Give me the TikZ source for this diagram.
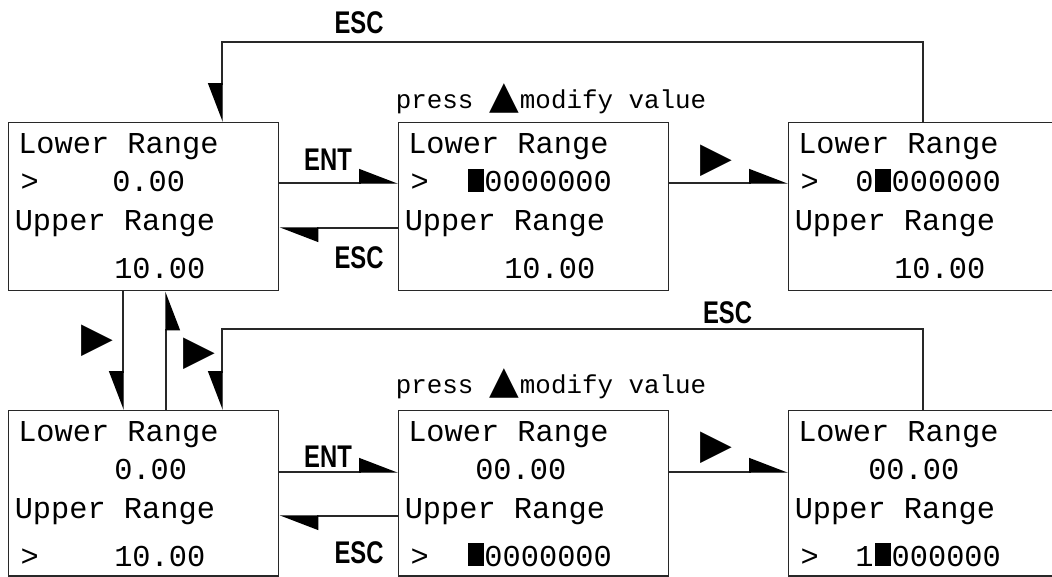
\documentclass[tikz,border=0pt]{standalone}
\usepackage{fontspec}
\usetikzlibrary{arrows.meta,calc}
\newfontfamily\boxfont{Liberation Mono}
\newfontfamily\lblfont[FakeStretch=0.76]{Liberation Sans Bold}
\newfontfamily\symfont{DejaVu Sans}
\definecolor{lc}{RGB}{40,40,40}
\newcommand{\lcdcur}{\hspace{1.1pt}\rule{12pt}{17.25pt}\hspace{0.55pt}}
\newcommand{\uptri}{\makebox[23.3pt][c]{\symfont\fontsize{29pt}{29pt}\selectfont ▲}}
\begin{document}
\begin{tikzpicture}[x=0.75pt,y=-0.75pt,
  screen/.style={draw=lc, line width=1.1pt, minimum width=202.5pt, minimum height=126pt, inner sep=0pt, anchor=north west},
  screenlow/.style={screen, minimum height=124.1pt},
  txt/.style={font=\boxfont\fontsize{22.75pt}{27pt}\selectfont, inner sep=0pt, anchor=base west},
  key/.style={font=\lblfont\fontsize{23.5pt}{28pt}\selectfont, inner sep=0pt, anchor=base},
  hint/.style={font=\boxfont\fontsize{19.4pt}{23pt}\selectfont, inner sep=0pt, anchor=base west},
  sym/.style={font=\symfont\fontsize{31pt}{31pt}\selectfont, inner sep=0pt},
  conn/.style={draw=lc, line width=1.1pt, -{Triangle[harpoon,length=27.75pt,width=21pt,color=black]}},
  vconn/.style={draw=lc, line width=1.1pt, -{Triangle[harpoon,swap,length=27.75pt,width=21pt,color=black]}},
]
\useasboundingbox (0,0) rectangle (1052,576);

% screens
\node[screen] (A) at (8,122) {};
\node[screen] (B) at (398,122) {};
\node[screen] (C) at (788,122) {};
\node[screenlow] (A2) at (8,410) {};
\node[screenlow] (B2) at (398,410) {};
\node[screenlow] (C2) at (788,410) {};

% screen A
\node[txt] (A-l1) at ($(A.north west)+(10,31)$) {Lower Range};
\node[txt] (A-p2) at ($(A.north west)+(12.4,69.5)$) {>};
\node[txt] (A-v2) at ($(A.north west)+(104,69.5)$) {0.00};
\node[txt] (A-l3) at ($(A.north west)+(6.5,108)$) {Upper Range};
\node[txt] (A-v4) at ($(A.north west)+(106,156)$) {10.00};
% screen B
\node[txt] (B-l1) at ($(B.north west)+(10,31)$) {Lower Range};
\node[txt] (B-p2) at ($(B.north west)+(12.4,69.5)$) {>};
\node[txt] (B-v2) at ($(B.north west)+(68,69.5)$) {\lcdcur0000000};
\node[txt] (B-l3) at ($(B.north west)+(6.5,108)$) {Upper Range};
\node[txt] (B-v4) at ($(B.north west)+(106,156)$) {10.00};
% screen C
\node[txt] (C-l1) at ($(C.north west)+(10,31)$) {Lower Range};
\node[txt] (C-p2) at ($(C.north west)+(12.4,69.5)$) {>};
\node[txt] (C-v2) at ($(C.north west)+(67,69.5)$) {0\lcdcur000000};
\node[txt] (C-l3) at ($(C.north west)+(6.5,108)$) {Upper Range};
\node[txt] (C-v4) at ($(C.north west)+(106,156)$) {10.00};
% screen A2
\node[txt] (A2-l1) at ($(A2.north west)+(10,31)$) {Lower Range};
\node[txt] (A2-v2) at ($(A2.north west)+(106,69.5)$) {0.00};
\node[txt] (A2-l3) at ($(A2.north west)+(6.5,108)$) {Upper Range};
\node[txt] (A2-p4) at ($(A2.north west)+(12.4,156)$) {>};
\node[txt] (A2-v4) at ($(A2.north west)+(106,156)$) {10.00};
% screen B2
\node[txt] (B2-l1) at ($(B2.north west)+(10,31)$) {Lower Range};
\node[txt] (B2-v2) at ($(B2.north west)+(77,69.5)$) {00.00};
\node[txt] (B2-l3) at ($(B2.north west)+(6.5,108)$) {Upper Range};
\node[txt] (B2-p4) at ($(B2.north west)+(12.4,156)$) {>};
\node[txt] (B2-v4) at ($(B2.north west)+(68,156)$) {\lcdcur0000000};
% screen C2
\node[txt] (C2-l1) at ($(C2.north west)+(10,31)$) {Lower Range};
\node[txt] (C2-v2) at ($(C2.north west)+(80,69.5)$) {00.00};
\node[txt] (C2-l3) at ($(C2.north west)+(6.5,108)$) {Upper Range};
\node[txt] (C2-p4) at ($(C2.north west)+(12.4,156)$) {>};
\node[txt] (C2-v4) at ($(C2.north west)+(67,156)$) {1\lcdcur000000};

% labels
\node[key] (esc1) at (359,33) {ESC};
\node[hint] (hint1) at (395.5,108) {press \uptri modify value};
\node[key] (ent1) at (328,170) {ENT};
\node[key] (esc2) at (359,268) {ESC};
\node[sym] (r1) at (716,160.5) {▶};
\node[key] (esc3) at (727.5,323) {ESC};
\node[hint] (hint2) at (395.5,393) {press \uptri modify value};
\node[key] (ent2) at (328,467) {ENT};
\node[key] (esc4) at (359,563) {ESC};
\node[sym] (r2) at (716,448) {▶};
\node[sym] (r3) at (97.5,340.5) {▶};
\node[sym] (r4) at (199.5,353.5) {▶};

% connectors top row
\draw[conn] ($(A.north east)+(0,61)$) -- ($(B.north west)+(0,61)$);
\draw[conn] ($(B.north west)+(0,106)$) -- ($(A.north east)+(0,106)$);
\draw[conn] ($(B.north east)+(0,61)$) -- ($(C.north west)+(0,61)$);
\draw[vconn] ($(C.north west)+(135,0)$) -- ++(0,-80) -| ($(A.north west)+(214,0)$);
% connectors bottom row
\draw[conn] ($(A2.north east)+(0,62)$) -- ($(B2.north west)+(0,62)$);
\draw[conn] ($(B2.north west)+(0,106)$) -- ($(A2.north east)+(0,106)$);
\draw[conn] ($(B2.north east)+(0,62)$) -- ($(C2.north west)+(0,62)$);
\draw[vconn] ($(C2.north west)+(135,0)$) -- ++(0,-81) -| ($(A2.north west)+(214,0)$);
% vertical between A and A2
\draw[vconn] ($(A.south west)+(115,0)$) -- ($(A2.north west)+(115,0)$);
\draw[vconn] ($(A2.north west)+(158,0)$) -- ($(A.south west)+(158,0)$);
\end{tikzpicture}
\end{document}
